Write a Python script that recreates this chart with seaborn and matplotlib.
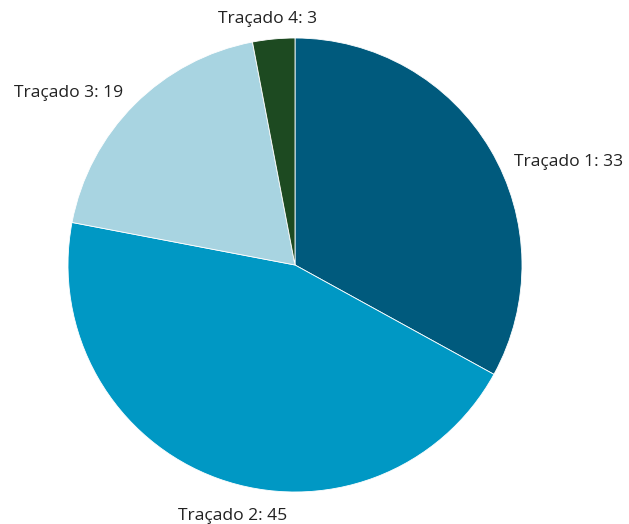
import matplotlib
matplotlib.use("Agg")
import matplotlib.pyplot as plt
import seaborn as sns

sns.set_theme(style="white")
plt.rcParams['font.family'] = ['Open Sans', 'DejaVu Sans']

categories = ["Traçado 1", "Traçado 2", "Traçado 3", "Traçado 4"]
values = [33, 45, 19, 3]
colors = ["#005A7D", "#0098C4", "#A8D4E1", "#1D4A21"]

# label placement (in units of pie radius) and alignment
label_pos = [(0.965, 0.454, "left"), (-0.273, -1.107, "center"),
             (-0.755, 0.757, "right"), (-0.12, 1.085, "center")]

fig = plt.figure(figsize=(6.29, 5.24), dpi=100)
r_px = 227
cx, cy = 295, 265
W, H = 629, 524
ax = fig.add_axes([(cx - r_px) / W, (H - cy - r_px) / H, 2 * r_px / W, 2 * r_px / H])

labels = [f"{c}: {v}" for c, v in zip(categories, values)]
wedges, texts = ax.pie(values, labels=labels, colors=colors, startangle=90,
                       counterclock=False, radius=1,
                       wedgeprops=dict(edgecolor="white", linewidth=0.6),
                       textprops=dict(fontsize=12.6, color="#222222"))
for t, (x, y, ha) in zip(texts, label_pos):
    t.set_position((x, y))
    t.set_ha(ha)
    t.set_va("center")
ax.set_xlim(-1, 1)
ax.set_ylim(-1, 1)
ax.set_aspect("equal")
ax.axis("off")
fig.savefig("out.png", dpi=100)
